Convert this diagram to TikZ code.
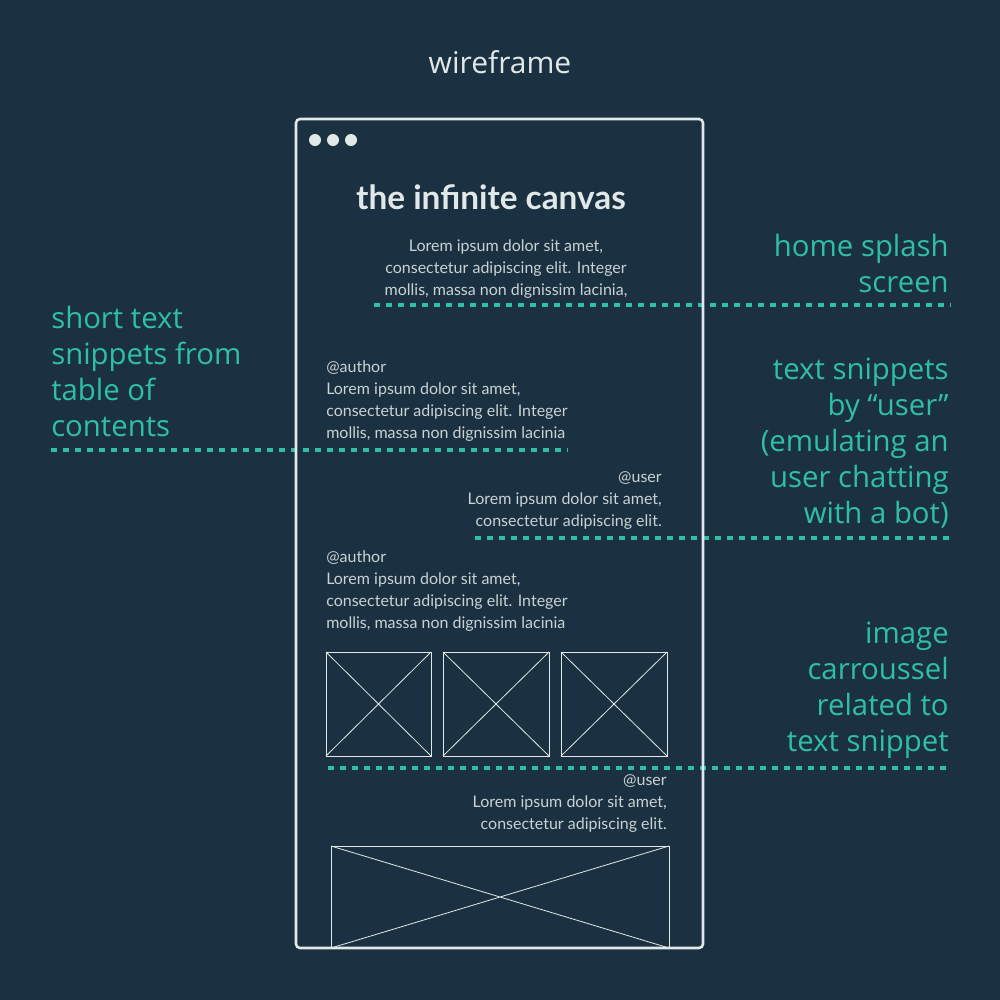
\documentclass[tikz,border=0pt]{standalone}
\usepackage{fontspec}
\setmainfont{Lato}
\newfontfamily\notefont{Open Sans}
\usetikzlibrary{positioning}
\definecolor{navy}{HTML}{1B3141}
\definecolor{mint}{HTML}{2FBFA6}
\definecolor{frameline}{HTML}{E1E8E8}
\definecolor{inktext}{HTML}{C9D2D5}
\tikzset{
  note/.style={text=mint, inner sep=0pt, font=\notefont\fontsize{22}{27}\selectfont},
  body/.style={text=inktext, inner sep=0pt, font=\fontsize{12}{16.5}\selectfont},
  guide/.style={mint, line width=2.3pt, dash pattern=on 4.5pt off 4.5pt},
  imgbox/.style={draw=frameline, line width=0.6pt},
}
\begin{document}
\begin{tikzpicture}[x=0.75pt, y=-0.75pt]
  \fill[navy] (0,0) rectangle (1000,1000);
  % heading
  \node[inner sep=0pt, text=frameline, font=\notefont\fontsize{22.5}{25}\selectfont, anchor=north] (heading) at (500,50) {wireframe};
  % annotation guides
  \draw[guide] (374,305) -- (951,305);
  \draw[guide] (51,450) -- (568,450);
  \draw[guide] (475,538) -- (951,538);
  \draw[guide] (328,768) -- (951,768);
  % browser frame
  \draw[frameline, line width=1.9pt, rounded corners=3pt] (296,119) rectangle (703,948);
  \foreach \dx in {315,333,351}
    \fill[frameline] (\dx,140) circle (4.5pt);
  % page content
  \node[inner sep=0pt, text=frameline, font=\fontsize{25}{28}\selectfont\bfseries, anchor=north] (title) at (491,184) {the infinite canvas};
  \node[body, align=center, anchor=north] (splash) at (506,239)
    {Lorem ipsum dolor sit amet,\\consectetur adipiscing elit. Integer\\mollis, massa non dignissim lacinia,};
  \node[body, align=left, anchor=north west] (author1) at (326,360)
    {@author\\Lorem ipsum dolor sit amet,\\consectetur adipiscing elit. Integer\\mollis, massa non dignissim lacinia};
  \node[body, align=right, anchor=north east] (user1) at (662,471)
    {@user\\Lorem ipsum dolor sit amet,\\consectetur adipiscing elit.};
  \node[body, align=left, anchor=north west] (author2) at (326,550)
    {@author\\Lorem ipsum dolor sit amet,\\consectetur adipiscing elit. Integer\\mollis, massa non dignissim lacinia};
  \foreach \xa/\xb in {326/431,443/549,561/667}{
    \draw[imgbox] (\xa,652) rectangle (\xb,756);
    \draw[imgbox] (\xa,652) -- (\xb,756) (\xa,756) -- (\xb,652);
  }
  \node[body, align=right, anchor=north east] (user2) at (667,774)
    {@user\\Lorem ipsum dolor sit amet,\\consectetur adipiscing elit.};
  \draw[imgbox] (331,846) rectangle (669,948);
  \draw[imgbox] (331,846) -- (669,948) (331,948) -- (669,846);
  % notes
  \node[note, align=right, anchor=north east] (noteSplash) at (949,234)
    {home splash\\screen};
  \node[note, align=left, anchor=north west] (noteToc) at (51,306)
    {short text\\snippets from\\table of\\contents};
  \node[note, align=right, anchor=north east] (noteUser) at (949,358)
    {text snippets\\by “user”\\(emulating an\\user chatting\\with a bot)};
  \node[note, align=right, anchor=north east] (noteCarousel) at (949,622)
    {image\\carroussel\\related to\\text snippet};
\end{tikzpicture}
\end{document}
